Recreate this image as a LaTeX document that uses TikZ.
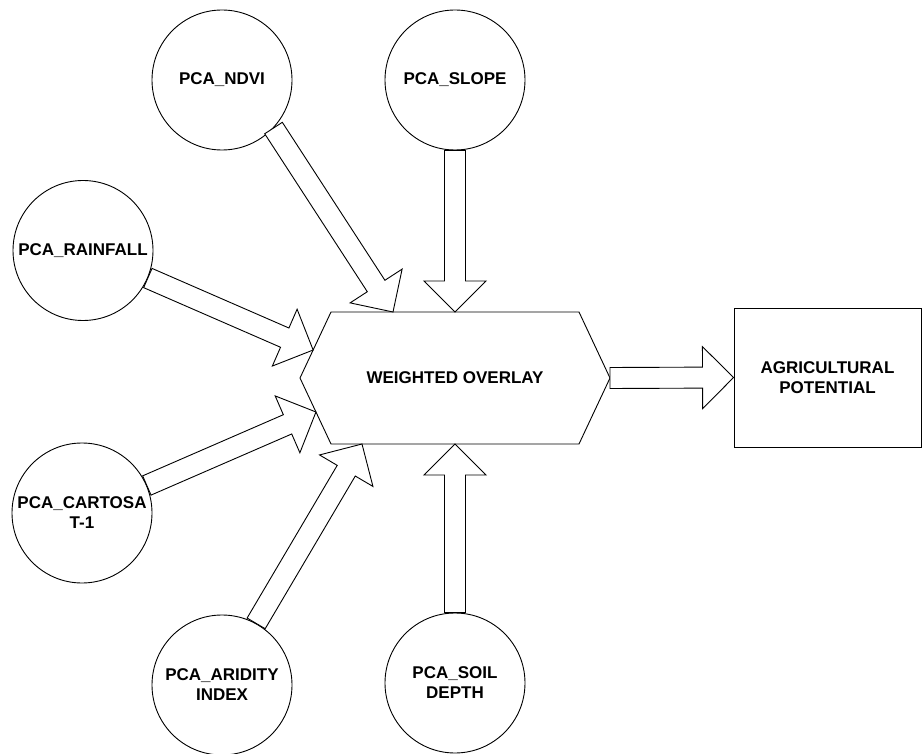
\documentclass[tikz,border=0pt]{standalone}
\usepackage{fontspec}
\setmainfont{Liberation Sans}
\usetikzlibrary{calc}
\tikzset{
  lbl/.style={font=\fontsize{17}{20}\selectfont\bfseries, align=center},
  pcacircle/.style={lbl, circle, draw, fill=white, line width=0.9pt, minimum size=140pt, inner sep=0pt},
  outbox/.style={lbl, rectangle, draw, fill=white, line width=0.9pt, minimum width=187pt, minimum height=139pt, inner sep=0pt},
  hexline/.style={draw, fill=white, line width=0.9pt, line join=miter},
  barrow/.style={draw, fill=white, line width=0.9pt, line join=miter},
}
\newcommand\blockarrow[2]{%
  \coordinate (ba-s) at (#1);
  \coordinate (ba-t) at (#2);
  \coordinate (ba-c) at ($(ba-t)!31pt!(ba-s)$);
  \draw[barrow] ($(ba-s)!10.5pt!90:(ba-t)$) -- ($(ba-c)!10.5pt!90:(ba-t)$)
     -- ($(ba-c)!31pt!90:(ba-t)$) -- (ba-t) -- ($(ba-c)!31pt!-90:(ba-t)$)
     -- ($(ba-c)!10.5pt!-90:(ba-t)$) -- ($(ba-s)!10.5pt!-90:(ba-t)$) -- cycle;
}
\begin{document}
\begin{tikzpicture}[x=1pt, y=-1pt]
\useasboundingbox (0,0) rectangle (922,754);
% hexagon
\coordinate (hTL) at (331,312);
\coordinate (hTR) at (579,312);
\coordinate (hR)  at (610,378);
\coordinate (hBR) at (579,444);
\coordinate (hBL) at (331,444);
\coordinate (hL)  at (300,378);
\path[hexline] (hTL) -- (hTR) -- (hR) -- (hBR) -- (hBL) -- (hL) -- cycle;
\node[lbl] (wo) at (455,378) {WEIGHTED OVERLAY};
% tips on the hexagon
\coordinate (tndvi)  at ($(hTL)!0.25!(hTR)$);
\coordinate (tslope) at ($(hTL)!0.5!(hTR)$);
\coordinate (train)  at ($(hTL)!0.576!(hL)$);
\coordinate (tcarto) at ($(hL)!0.515!(hBL)$);
\coordinate (tarid)  at ($(hBL)!0.125!(hBR)$);
\coordinate (tsoil)  at ($(hBL)!0.5!(hBR)$);
% circles
\node[pcacircle] (ndvi)  at (222,80)    {PCA\_NDVI};
\node[pcacircle] (slope) at (455,80)    {PCA\_SLOPE};
\node[pcacircle] (rain)  at (83,250.5)  {PCA\_RAINFALL};
\node[pcacircle] (carto) at (82,513)    {PCA\_CARTOSA\\T-1};
\node[pcacircle] (arid)  at (222,685)   {PCA\_ARIDITY\\INDEX};
\node[pcacircle] (soil)  at (455,683)   {PCA\_SOIL\\DEPTH};
% output box
\node[outbox] (ap) at (827.5,377.5) {AGRICULTURAL\\POTENTIAL};
% arrows
\blockarrow{ndvi.-43.5}{tndvi}
\blockarrow{slope.south}{tslope}
\blockarrow{rain.-23.3}{train}
\blockarrow{carto.23.1}{tcarto}
\blockarrow{arid.61.8}{tarid}
\blockarrow{soil.north}{tsoil}
\blockarrow{hR}{ap.west}
\end{tikzpicture}
\end{document}
